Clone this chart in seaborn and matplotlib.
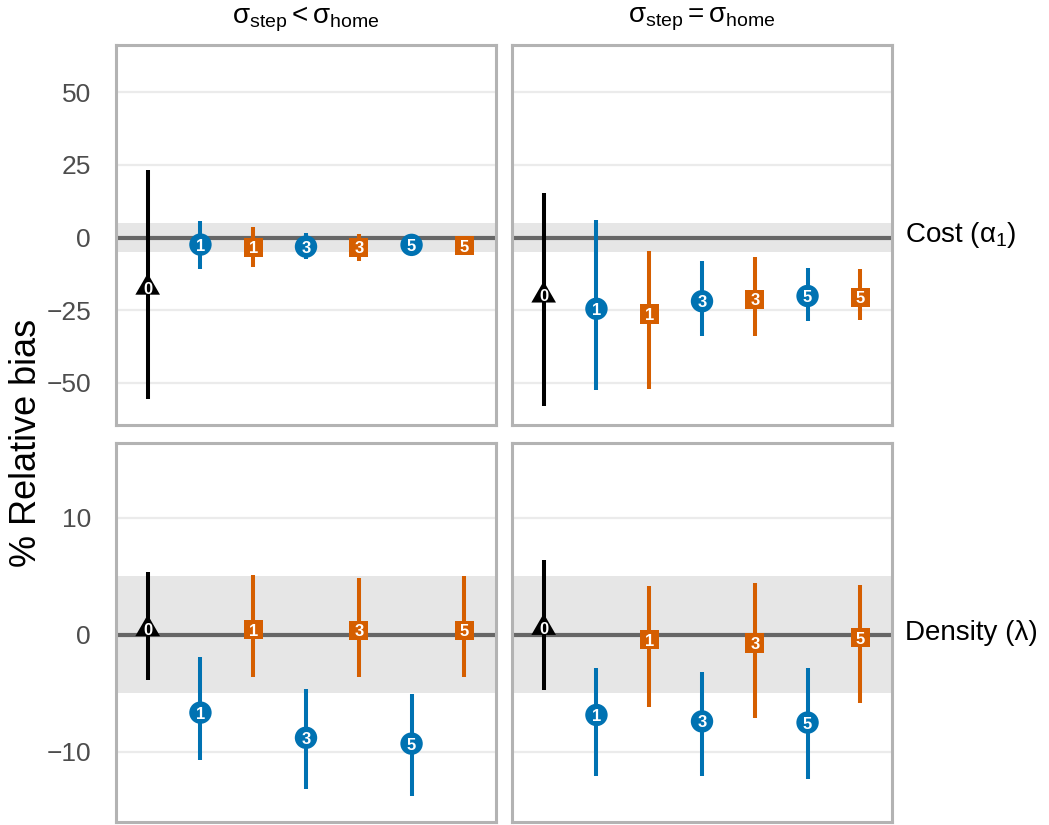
import numpy as np
import pandas as pd
import matplotlib
matplotlib.use("Agg")
import matplotlib.pyplot as plt
import seaborn as sns

# ---- data -------------------------------------------------------------
labels = ["0", "1", "1", "3", "3", "5", "5"]
series = ["S0", "S1", "S2", "S1", "S2", "S1", "S2"]

# Cost (alpha_1), sigma_step < sigma_home
cost_lt_est = [-17.2, -2.4, -3.4, -3.1, -3.4, -2.5, -2.8]
cost_lt_lo = [-55.6, -10.8, -10.0, -7.4, -8.0, -5.5, -5.3]
cost_lt_hi = [23.3, 5.6, 3.8, 1.6, 1.4, 0.5, -0.3]

# Cost (alpha_1), sigma_step = sigma_home
cost_eq_est = [-19.9, -24.5, -26.3, -21.9, -21.3, -20.1, -20.5]
cost_eq_lo = [-58.0, -52.4, -52.0, -33.8, -34.0, -28.8, -28.5]
cost_eq_hi = [15.2, 5.9, -4.5, -8.2, -6.8, -10.5, -10.9]

# Density (lambda), sigma_step < sigma_home
dens_lt_est = [0.5, -6.65, 0.45, -8.8, 0.4, -9.3, 0.4]
dens_lt_lo = [-3.85, -10.7, -3.6, -13.2, -3.6, -13.8, -3.6]
dens_lt_hi = [5.4, -1.9, 5.1, -4.6, 4.9, -5.1, 5.0]

# Density (lambda), sigma_step = sigma_home
dens_eq_est = [0.6, -6.85, -0.4, -7.4, -0.7, -7.5, -0.25]
dens_eq_lo = [-4.7, -12.1, -6.2, -12.1, -7.1, -12.3, -5.8]
dens_eq_hi = [6.4, -2.8, 4.2, -3.2, 4.4, -2.8, 4.3]

col_titles = [r"$\mathrm{\sigma_{step} < \sigma_{home}}$",
              r"$\mathrm{\sigma_{step} = \sigma_{home}}$"]
row_titles = [r"Cost ($\mathrm{\alpha_1}$)", "Density (λ)"]
row_ticks = [[-50, -25, 0, 25, 50], [-10, 0, 10]]
row_limits = [(-64.5, 66.3), (-16.0, 16.4)]
band_halfwidth = 5

# ---- style ------------------------------------------------------------
sns.set_theme(style="white")
plt.rcParams["font.family"] = ["Liberation Sans", "DejaVu Sans"]
plt.rcParams["mathtext.fontset"] = "custom"
plt.rcParams["mathtext.rm"] = "Liberation Sans"
plt.rcParams["mathtext.it"] = "Liberation Sans:italic"
plt.rcParams["mathtext.bf"] = "Liberation Sans:bold"

palette = {"S0": "black", "S1": "#0072B2", "S2": "#D55E00"}
tri = [(-1.0, -0.577), (1.0, -0.577), (0.0, 1.155)]
markers = {"S0": tri, "S1": "o", "S2": "s"}
sizes = {"S0": 420, "S1": 260, "S2": 190}

panels = {
    (0, 0): (cost_lt_est, cost_lt_lo, cost_lt_hi),
    (0, 1): (cost_eq_est, cost_eq_lo, cost_eq_hi),
    (1, 0): (dens_lt_est, dens_lt_lo, dens_lt_hi),
    (1, 1): (dens_eq_est, dens_eq_lo, dens_eq_hi),
}

W, H = 1049, 825
fig = plt.figure(figsize=(W / 100, H / 100), dpi=100)

col_x = [116, 512]
row_y = [(45, 425), (443, 822)]
panel_w = 380

for (r, c), (est, lo, hi) in panels.items():
    y0, y1 = row_y[r]
    ax = fig.add_axes([col_x[c] / W, (H - y1) / H, panel_w / W, (y1 - y0) / H])
    df = pd.DataFrame({
        "pos": np.arange(len(labels)),
        "est": est, "lo": lo, "hi": hi,
        "series": series, "label": labels,
    })

    ax.axhspan(-band_halfwidth, band_halfwidth, color="#E6E6E6", zorder=0, lw=0)
    ax.set_axisbelow(True)
    ax.yaxis.grid(True, color="#EBEBEB", lw=1.6)
    ax.xaxis.grid(False)
    ax.axhline(0, color="#666666", lw=3, zorder=1)

    ax.vlines(df["pos"], df["lo"], df["hi"],
              colors=[palette[s] for s in df["series"]], lw=2.9, zorder=2)
    sns.scatterplot(data=df, x="pos", y="est", hue="series", style="series",
                    size="series", palette=palette, markers=markers, sizes=sizes,
                    linewidth=0, legend=False, ax=ax, zorder=3)
    for _, row in df.iterrows():
        ax.text(row["pos"], row["est"], row["label"], color="white",
                fontsize=12, fontweight="bold", ha="center", va="center_baseline",
                zorder=4)

    ax.set_xlim(-0.6, 6.6)
    ax.set_ylim(*row_limits[r])
    ax.set_xticks([])
    ax.set_yticks(row_ticks[r])
    ax.set_xlabel("")
    ax.set_ylabel("")
    ax.tick_params(axis="y", length=0, pad=18, labelsize=19, labelcolor="#4D4D4D")
    if c == 1:
        ax.set_yticklabels([])
    for sp in ax.spines.values():
        sp.set_visible(True)
        sp.set_color("#B3B3B3")
        sp.set_linewidth(2.2)

    if r == 0:
        fig.text((col_x[c] + panel_w / 2) / W, 1 - 19 / H, col_titles[c],
                 ha="center", va="center", fontsize=20, color="black")
    if c == 1:
        fig.text(905 / W, 1 - ((y0 + y1) / 2) / H, row_titles[r],
                 ha="left", va="center", fontsize=20, color="black")

fig.text(27 / W, 1 - 443 / H, "% Relative bias", rotation=90,
         ha="center", va="center", fontsize=26, color="black")

fig.savefig("out.png", dpi=100)
